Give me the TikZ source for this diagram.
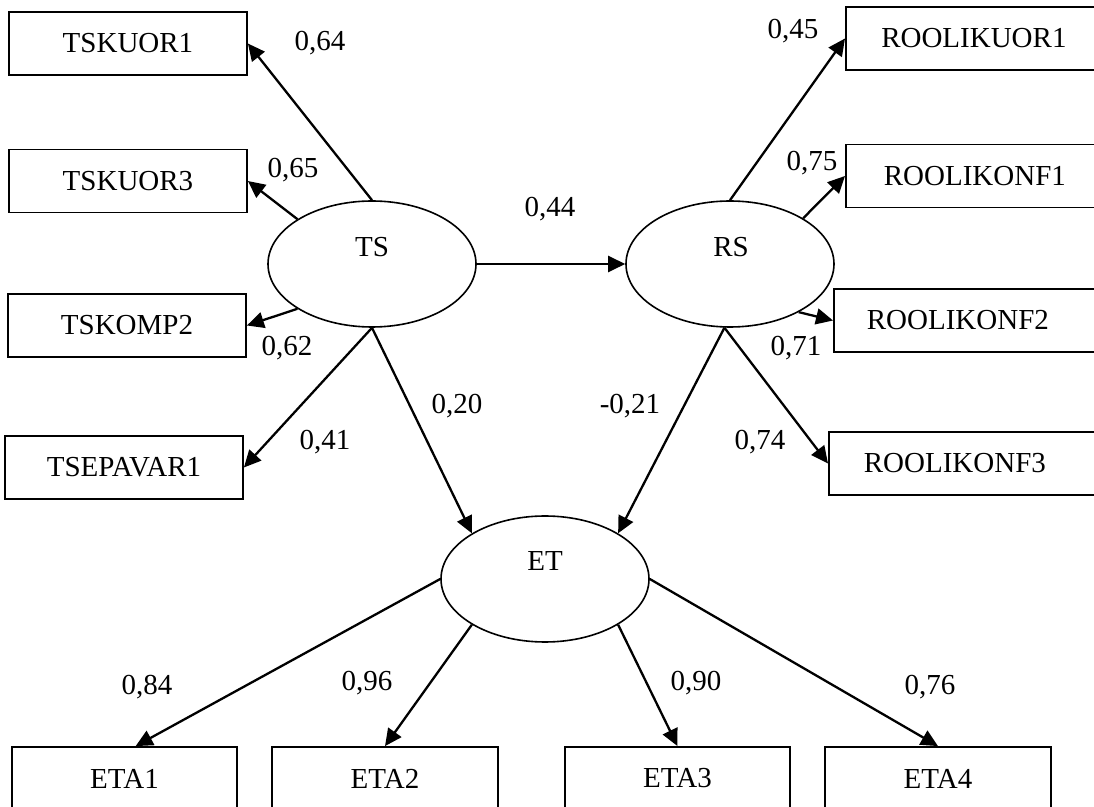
\documentclass[tikz,border=0pt]{standalone}
\usepackage{fontspec}
\setmainfont{Liberation Serif}
\usetikzlibrary{arrows.meta,shapes.geometric}
\begin{document}
\begin{tikzpicture}[x=0.5pt,y=-0.5pt,
  every node/.style={font=\fontsize{14.5}{16}\selectfont},
  obs/.style={draw,line width=0.9pt,rectangle,minimum width=119pt,minimum height=31.5pt,inner sep=0pt},
  rbox/.style={obs,anchor=west,minimum width=140pt},
  latent/.style={draw,line width=0.8pt,ellipse,minimum width=104pt,minimum height=63pt,inner sep=0pt},
  path/.style={line width=1.15pt,-{Triangle[length=8.5pt,width=8pt]}},
  coef/.style={inner sep=0pt}]
\useasboundingbox (0,0) rectangle (1094,807);

% latent variables
\node[latent] (TS) at (372,264) {};
\node[latent] (RS) at (730,264) {};
\node[latent] (ET) at (545,579) {};
\node[coef] (TSt) at (372,247) {TS};
\node[coef] (RSt) at (731,247) {RS};
\node[coef] (ETt) at (545,561) {ET};

% indicators of TS
\node[obs] (TSKUOR1) at (128,43.5) {TSKUOR1};
\node[obs] (TSKUOR3) at (128,181) {TSKUOR3};
\node[obs] (TSKOMP2) at (127,325.5) {TSKOMP2};
\node[obs] (TSEPAVAR1) at (124,467.5) {TSEPAVAR1};

% indicators of RS
\node[rbox] (ROOLIKUOR1) at (845,38.5) {ROOLIKUOR1\hspace*{12pt}};
\node[rbox] (ROOLIKONF1) at (845,176) {ROOLIKONF1\hspace*{11pt}};
\node[rbox] (ROOLIKONF2) at (833,320.5) {ROOLIKONF2\hspace*{16pt}};
\node[rbox] (ROOLIKONF3) at (828,463.5) {ROOLIKONF3\hspace*{14pt}};

% indicators of ET
\node[obs,minimum width=112.5pt] (ETA1) at (124.5,778.5) {ETA1};
\node[obs,minimum width=113pt] (ETA2) at (385,778.5) {ETA2};
\node[obs,minimum width=112.5pt] (ETA3) at (677.5,778.5) {ETA3};
\node[obs,minimum width=113pt] (ETA4) at (938,778.5) {ETA4};

% paths
\draw[path] (TS.north) -- (TSKUOR1.east);
\draw[path] (TS.149) -- (TSKUOR3.east);
\draw[path] (TS.211) -- (TSKOMP2.east);
\draw[path] (TS.south) -- (TSEPAVAR1.east);
\draw[path] (TS.east) -- (RS.west);
\draw[path] (TS.south) -- (ET.148);
\draw[path] (RS.north) -- (ROOLIKUOR1.west);
\draw[path] (RS.32) -- (ROOLIKONF1.west);
\draw[path] (RS.-35) -- (ROOLIKONF2.west);
\draw[path] (RS.265) -- (ROOLIKONF3.west);
\draw[path] (RS.265) -- (ET.32);
\draw[path] (ET.west) -- (ETA1.71.6);
\draw[path] (ET.212) -- (ETA2.north);
\draw[path] (ET.328) -- (ETA3.north);
\draw[path] (ET.east) -- (ETA4.north);

% coefficients
\node[coef] (c1) at (320,43) {0,64};
\node[coef] (c2) at (293,170) {0,65};
\node[coef] (c3) at (287,348) {0,62};
\node[coef] (c4) at (325,442) {0,41};
\node[coef] (c5) at (457,406) {0,20};
\node[coef] (c6) at (550,209) {0,44};
\node[coef] (c7) at (793,31) {0,45};
\node[coef] (c8) at (812,163) {0,75};
\node[coef] (c9) at (796,348) {0,71};
\node[coef] (c10) at (760,442) {0,74};
\node[coef] (c11) at (630,406) {-0,21};
\node[coef] (c12) at (147,687) {0,84};
\node[coef] (c13) at (367,683) {0,96};
\node[coef] (c14) at (696,683) {0,90};
\node[coef] (c15) at (930,687) {0,76};
\end{tikzpicture}
\end{document}
